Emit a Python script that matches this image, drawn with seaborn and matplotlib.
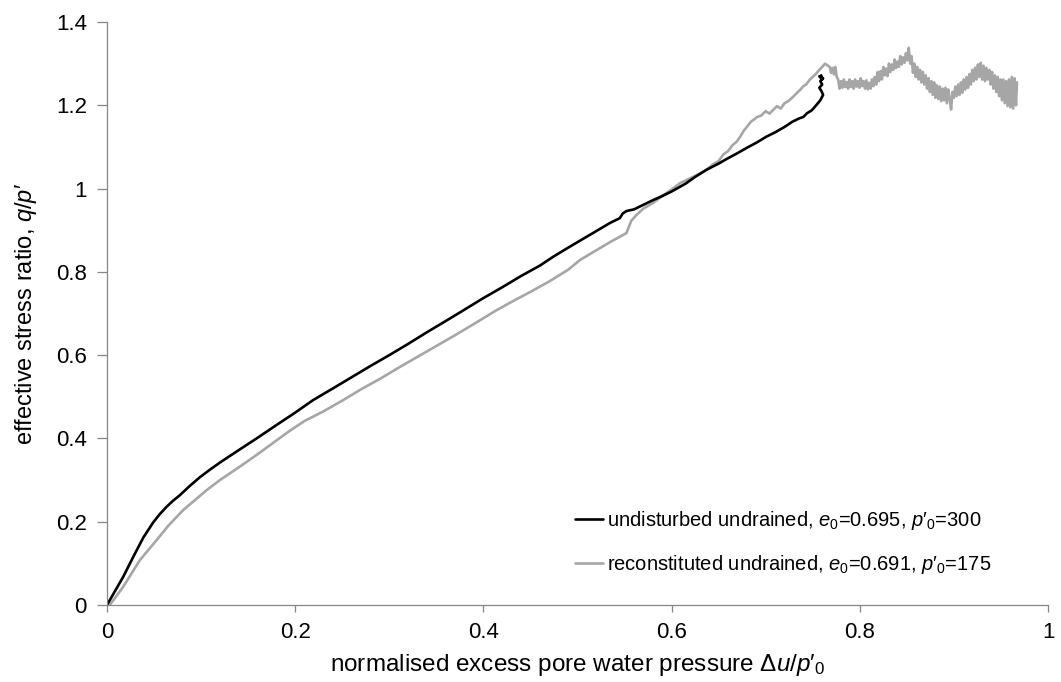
import matplotlib
matplotlib.use("Agg")
import matplotlib.pyplot as plt
import pandas as pd
import seaborn as sns

# ---------------- data ----------------
undisturbed_x = [0.000, 0.0173, 0.028, 0.0386, 0.049, 0.056, 0.0634, 0.070, 0.0776, 0.088,
                 0.0988, 0.110, 0.120, 0.140, 0.159, 0.180, 0.200, 0.219, 0.240, 0.260,
                 0.280, 0.300, 0.320, 0.340, 0.360, 0.379, 0.400, 0.420, 0.440, 0.460,
                 0.474, 0.490, 0.505, 0.520, 0.535, 0.545, 0.548, 0.552, 0.560, 0.570,
                 0.580, 0.590, 0.600, 0.615, 0.625, 0.637, 0.650, 0.660, 0.670, 0.680,
                 0.690, 0.701, 0.710, 0.720, 0.728, 0.735, 0.740, 0.744, 0.749, 0.754,
                 0.758, 0.761, 0.759, 0.757, 0.760, 0.758, 0.761, 0.757, 0.760, 0.759]
undisturbed_y = [0.000, 0.068, 0.116, 0.162, 0.198, 0.218, 0.236, 0.250, 0.264, 0.286,
                 0.307, 0.326, 0.342, 0.372, 0.400, 0.432, 0.462, 0.492, 0.520, 0.547,
                 0.574, 0.600, 0.627, 0.655, 0.682, 0.708, 0.737, 0.763, 0.790, 0.815,
                 0.836, 0.858, 0.878, 0.898, 0.918, 0.929, 0.940, 0.946, 0.950, 0.961,
                 0.972, 0.982, 0.993, 1.012, 1.028, 1.045, 1.060, 1.073, 1.085, 1.098,
                 1.110, 1.125, 1.135, 1.148, 1.160, 1.168, 1.172, 1.181, 1.188, 1.201,
                 1.212, 1.225, 1.235, 1.242, 1.250, 1.258, 1.265, 1.270, 1.262, 1.272]

reconstituted_x = [0.003, 0.0173, 0.035, 0.0528, 0.065, 0.081, 0.106, 0.120, 0.141,
                   0.160, 0.180, 0.194, 0.210, 0.230, 0.251, 0.270, 0.290, 0.310, 0.330,
                   0.350, 0.370, 0.390, 0.414, 0.430, 0.450, 0.470, 0.490, 0.503, 0.520,
                   0.535, 0.548, 0.552, 0.555, 0.557, 0.562, 0.570, 0.580, 0.590, 0.600,
                   0.609, 0.620, 0.630, 0.637, 0.645, 0.650, 0.655, 0.660, 0.665, 0.669,
                   0.673, 0.677, 0.680, 0.684, 0.687, 0.691, 0.695, 0.700, 0.704, 0.708,
                   0.712, 0.716, 0.720, 0.724, 0.728, 0.733, 0.737, 0.740, 0.743, 0.747,
                   0.750, 0.754, 0.757, 0.760, 0.763, 0.765,
                   0.7680, 0.7695, 0.7710, 0.7725, 0.7740, 0.7755, 0.7770, 0.7785, 0.7800, 0.7815,
                   0.7830, 0.7845, 0.7860, 0.7875, 0.7890, 0.7905, 0.7920, 0.7935, 0.7950, 0.7965,
                   0.7980, 0.7995, 0.8010, 0.8025, 0.8040, 0.8055, 0.8070, 0.8085, 0.8100, 0.8115,
                   0.8130, 0.8145, 0.8160, 0.8175, 0.8190, 0.8205, 0.8220, 0.8235, 0.8250, 0.8265,
                   0.8280, 0.8295, 0.8310, 0.8325, 0.8340, 0.8355, 0.8370, 0.8385, 0.8400, 0.8415,
                   0.8430, 0.8445, 0.8460, 0.8475, 0.8490, 0.8505, 0.8520, 0.8535, 0.8550, 0.8565,
                   0.8580, 0.8595, 0.8610, 0.8625, 0.8640, 0.8655, 0.8670, 0.8685, 0.8700, 0.8715,
                   0.8730, 0.8745, 0.8760, 0.8775, 0.8790, 0.8805, 0.8820, 0.8835, 0.8850, 0.8865,
                   0.8880, 0.8895, 0.8910, 0.8925, 0.8940, 0.8955, 0.8970, 0.8985, 0.9000, 0.9015,
                   0.9030, 0.9045, 0.9060, 0.9075, 0.9090, 0.9105, 0.9120, 0.9135, 0.9150, 0.9165,
                   0.9180, 0.9195, 0.9210, 0.9225, 0.9240, 0.9255, 0.9270, 0.9285, 0.9300, 0.9315,
                   0.9330, 0.9345, 0.9360, 0.9375, 0.9390, 0.9405, 0.9420, 0.9435, 0.9450, 0.9465,
                   0.9480, 0.9495, 0.9510, 0.9525, 0.9540, 0.9555, 0.9570, 0.9585, 0.9600, 0.9615,
                   0.9630, 0.9645, 0.9660, 0.9670]
reconstituted_y = [0.000, 0.044, 0.108, 0.156, 0.190, 0.228, 0.276, 0.300, 0.332,
                   0.362, 0.395, 0.418, 0.442, 0.465, 0.492, 0.518, 0.543, 0.570, 0.596,
                   0.622, 0.648, 0.675, 0.708, 0.728, 0.752, 0.777, 0.805, 0.829, 0.852,
                   0.872, 0.888, 0.893, 0.910, 0.922, 0.935, 0.952, 0.965, 0.982, 0.998,
                   1.013, 1.025, 1.036, 1.045, 1.060, 1.066, 1.082, 1.090, 1.105, 1.112,
                   1.125, 1.140, 1.148, 1.160, 1.165, 1.172, 1.175, 1.186, 1.180, 1.189,
                   1.198, 1.192, 1.205, 1.210, 1.218, 1.229, 1.238, 1.246, 1.250, 1.262,
                   1.268, 1.277, 1.285, 1.292, 1.300, 1.297,
                   1.292, 1.278, 1.290, 1.274, 1.292, 1.268, 1.262, 1.240, 1.258, 1.242,
                   1.262, 1.244, 1.256, 1.240, 1.262, 1.244, 1.258, 1.240, 1.262, 1.245,
                   1.258, 1.242, 1.265, 1.246, 1.258, 1.240, 1.260, 1.238, 1.254, 1.240,
                   1.262, 1.246, 1.268, 1.250, 1.280, 1.258, 1.282, 1.262, 1.292, 1.272,
                   1.288, 1.270, 1.300, 1.280, 1.298, 1.285, 1.310, 1.290, 1.305, 1.292,
                   1.318, 1.298, 1.315, 1.302, 1.325, 1.308, 1.338, 1.300, 1.318, 1.278,
                   1.300, 1.268, 1.292, 1.262, 1.285, 1.255, 1.280, 1.250, 1.272, 1.240,
                   1.265, 1.232, 1.258, 1.225, 1.255, 1.218, 1.248, 1.215, 1.245, 1.210,
                   1.240, 1.212, 1.242, 1.205, 1.238, 1.215, 1.190, 1.232, 1.218, 1.245,
                   1.222, 1.250, 1.225, 1.255, 1.230, 1.262, 1.238, 1.268, 1.242, 1.275,
                   1.250, 1.285, 1.258, 1.290, 1.262, 1.298, 1.268, 1.302, 1.262, 1.295,
                   1.258, 1.290, 1.262, 1.285, 1.250, 1.280, 1.240, 1.272, 1.232, 1.268,
                   1.222, 1.262, 1.212, 1.262, 1.205, 1.258, 1.198, 1.262, 1.195, 1.268,
                   1.192, 1.265, 1.200, 1.255]

series_labels = ["undisturbed undrained, $e_0$=0.695, $p$′$_0$=300",
                 "reconstituted undrained, $e_0$=0.691, $p$′$_0$=175"]
series_colors = ["#000000", "#A6A6A6"]

x_ticks = [0, 0.2, 0.4, 0.6, 0.8, 1.0]
x_tick_labels = ["0", "0.2", "0.4", "0.6", "0.8", "1"]
y_ticks = [0, 0.2, 0.4, 0.6, 0.8, 1.0, 1.2, 1.4]
y_tick_labels = ["0", "0.2", "0.4", "0.6", "0.8", "1", "1.2", "1.4"]

x_label = "normalised excess pore water pressure Δ$u$/$p$′$_0$"
y_label = "effective stress ratio, $q$/$p$′"

# ---------------- styling ----------------
sns.set_style("white")
plt.rcParams["font.family"] = ["Liberation Sans", "DejaVu Sans"]
plt.rcParams["mathtext.fontset"] = "custom"
plt.rcParams["mathtext.rm"] = "Liberation Sans"
plt.rcParams["mathtext.it"] = "Liberation Sans:italic"
plt.rcParams["mathtext.bf"] = "Liberation Sans:bold"

W, H = 1061, 682
fig = plt.figure(figsize=(W / 100, H / 100), dpi=100)
ax = fig.add_axes([107 / W, 1 - 605 / H, 941 / W, 583 / H])

df_un = pd.DataFrame({"x": undisturbed_x, "y": undisturbed_y, "series": series_labels[0]})
df_re = pd.DataFrame({"x": reconstituted_x, "y": reconstituted_y, "series": series_labels[1]})

# reconstituted first (underneath), undisturbed on top
sns.lineplot(data=df_re, x="x", y="y", hue="series", palette={series_labels[1]: series_colors[1]},
             sort=False, estimator=None, lw=1.9, ax=ax)
sns.lineplot(data=df_un, x="x", y="y", hue="series", palette={series_labels[0]: series_colors[0]},
             sort=False, estimator=None, lw=1.9, ax=ax)

ax.set_xlim(0, 1)
ax.set_ylim(0, 1.4)
ax.set_xticks(x_ticks)
ax.set_xticklabels(x_tick_labels)
ax.set_yticks(y_ticks)
ax.set_yticklabels(y_tick_labels)

for side in ["top", "right"]:
    ax.spines[side].set_visible(False)
for side in ["left", "bottom"]:
    ax.spines[side].set_color("#868686")
    ax.spines[side].set_linewidth(0.9)
ax.tick_params(axis="both", which="major", direction="out", width=0.9,
               color="#868686", labelsize=16, labelcolor="#000000",
               bottom=True, left=True)
ax.tick_params(axis="y", length=7, pad=7.5)
ax.tick_params(axis="x", length=5, pad=7)

ax.set_xlabel(x_label, fontsize=17.5, color="#000000", labelpad=7)
ax.set_ylabel(y_label, fontsize=17, color="#000000", labelpad=12)

handles, labels = ax.get_legend_handles_labels()
order = [labels.index(series_labels[0]), labels.index(series_labels[1])]
leg = ax.legend([handles[i] for i in order], [labels[i] for i in order],
                loc="upper left", bbox_to_anchor=(575 / W, 1 - 509 / H),
                bbox_transform=fig.transFigure, frameon=False, fontsize=14.5,
                handlelength=1.4, handletextpad=0.2, labelspacing=1.05, borderpad=0,
                borderaxespad=0)
for line in leg.get_lines():
    line.set_linewidth(1.9)
for t in leg.get_texts():
    t.set_color("#000000")

fig.savefig("out.png", dpi=100)
